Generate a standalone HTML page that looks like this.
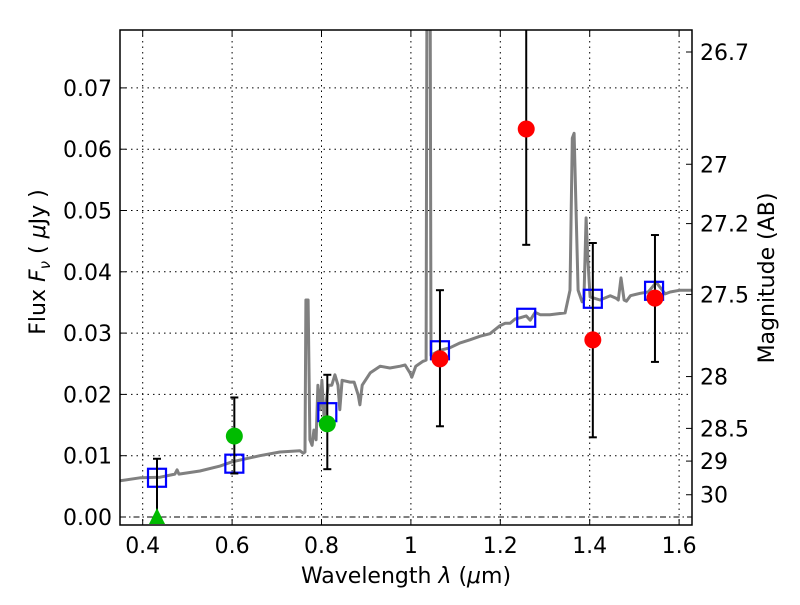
<!DOCTYPE html>
<html><head><meta charset="utf-8"><style>
body{margin:0;background:#fff}
svg text{font-family:"DejaVu Sans","Liberation Sans",sans-serif;fill:#000}
</style></head><body>
<svg id="chart" width="800" height="600" xmlns="http://www.w3.org/2000/svg">
<rect x="0" y="0" width="800" height="600" fill="#fff"/>
<g id="grid"></g>
<g id="spec"></g>
<g id="marks"></g>
<g id="axes"></g>
<text x="406" y="583" font-size="22" text-anchor="middle">Wavelength  <tspan font-style="italic">λ</tspan> (<tspan font-style="italic">μ</tspan>m)</text>
<text transform="translate(45,262) rotate(-90)" font-size="22" text-anchor="middle">Flux  <tspan font-style="italic">F</tspan><tspan font-style="italic" font-size="15" dy="5">ν</tspan><tspan dy="-5">  (  </tspan><tspan font-style="italic">μ</tspan>Jy )</text>
<text transform="translate(774,278) rotate(-90)" font-size="22" text-anchor="middle">Magnitude (AB)</text>
</svg>
<script>
const xTicks=[0.4,0.6,0.8,1,1.2,1.4,1.6];
const xTickLabels=["0.4","0.6","0.8","1","1.2","1.4","1.6"];
const yTicks=[0,0.01,0.02,0.03,0.04,0.05,0.06,0.07];
const yTickLabels=["0.00","0.01","0.02","0.03","0.04","0.05","0.06","0.07"];
const magTicks=[26.7,27,27.2,27.5,28,28.5,29,30];
const magTickLabels=["26.7","27","27.2","27.5","28","28.5","29","30"];
const specLam=[0.349,0.394,0.439,0.472,0.477,0.481,0.528,0.573,0.600,0.662,0.707,0.752,0.759,0.763,0.765,0.770,0.774,0.779,0.783,0.788,0.792,0.797,0.801,0.806,0.815,0.823,0.830,0.837,0.841,0.846,0.864,0.873,0.882,0.886,0.891,0.909,0.931,0.953,0.976,0.987,0.998,1.002,1.011,1.027,1.034,1.036,1.043,1.045,1.065,1.087,1.110,1.132,1.155,1.177,1.199,1.211,1.222,1.233,1.244,1.258,1.267,1.278,1.289,1.311,1.345,1.356,1.361,1.365,1.369,1.374,1.383,1.387,1.392,1.396,1.401,1.423,1.446,1.459,1.464,1.470,1.477,1.482,1.491,1.513,1.531,1.540,1.549,1.557,1.569,1.580,1.602,1.629];
const specFlux=[0.0059,0.0064,0.0065,0.0070,0.0077,0.0070,0.0075,0.0083,0.0090,0.0100,0.0106,0.0108,0.0104,0.0106,0.0354,0.0354,0.0126,0.0117,0.0142,0.0126,0.0215,0.0175,0.0223,0.0158,0.0215,0.0215,0.0232,0.0215,0.0175,0.0223,0.0220,0.0220,0.0199,0.0183,0.0215,0.0235,0.0246,0.0243,0.0246,0.0248,0.0235,0.0228,0.0246,0.0254,0.0256,0.09,0.09,0.0264,0.0272,0.0276,0.0284,0.0289,0.0295,0.0299,0.0312,0.0316,0.0316,0.0323,0.0325,0.0328,0.0321,0.0334,0.0330,0.0330,0.0333,0.0370,0.0618,0.0626,0.0517,0.0370,0.0351,0.0354,0.0488,0.0419,0.0359,0.0354,0.0361,0.0357,0.0354,0.0390,0.0354,0.0352,0.0361,0.0365,0.0367,0.0375,0.0383,0.0375,0.0364,0.0367,0.0370,0.0370];
const modelLam=[0.432,0.605,0.813,1.065,1.258,1.407,1.544];
const modelFlux=[0.0064,0.0087,0.0171,0.0272,0.0325,0.0356,0.0369];
const obsLam=[0.432,0.605,0.813,1.065,1.258,1.407,1.546];
const obsFlux=[0.0,0.0132,0.0152,0.0258,0.0633,0.0289,0.0357];
const obsLo=[0.0,0.0071,0.0078,0.0148,0.0444,0.0130,0.0253];
const obsHi=[0.0095,0.0195,0.0232,0.0370,0.0900,0.0447,0.0460];
const obsKind=["tri","green","green","red","red","red","red"];

const L=120,R=692,T=30,B=525;
const X=v=>142.7+(v-0.4)*447;
const Y=v=>517-v*6130;
const NS="http://www.w3.org/2000/svg";
function mk(parent,tag,attrs){const e=document.createElementNS(NS,tag);for(const k in attrs)e.setAttribute(k,attrs[k]);parent.appendChild(e);return e;}
const grid=document.getElementById('grid'),axes=document.getElementById('axes'),spec=document.getElementById('spec'),marks=document.getElementById('marks');
const clip=mk(document.getElementById('chart'),'clipPath',{id:'pc'});mk(clip,'rect',{x:L,y:T,width:R-L,height:B-T});
spec.setAttribute('clip-path','url(#pc)');marks.setAttribute('clip-path','url(#pc)');
xTicks.forEach((t,i)=>{
 const x=X(t);
 const g=mk(grid,'line',{x1:x,x2:x,y1:T,y2:B,stroke:'#000','stroke-width':1,'stroke-dasharray':'1.5,4'});
 
 
 mk(axes,'line',{x1:x,x2:x,y1:B,y2:B-6,stroke:'#000'});mk(axes,'line',{x1:x,x2:x,y1:T,y2:T+6,stroke:'#000'});
 const tx=mk(axes,'text',{x:x,y:B+28,'font-size':22,'text-anchor':'middle'});tx.textContent=xTickLabels[i];
 
 
});
yTicks.forEach((t,i)=>{
 const y=Y(t);
 const g=mk(grid,'line',{x1:L,x2:R,y1:y,y2:y,stroke:'#000','stroke-width':1,'stroke-dasharray':i===0?'6,3,1.5,3':'1.5,4'});
 
 
 mk(axes,'line',{x1:L,x2:L+6,y1:y,y2:y,stroke:'#000'});
 const tx=mk(axes,'text',{x:L-8,y:y+8,'font-size':22,'text-anchor':'end'});tx.textContent=yTickLabels[i];
 
 
});
magTicks.forEach((m,i)=>{
 const y=Y(Math.pow(10,(23.9-m)/2.5));
 mk(axes,'line',{x1:R,x2:R-6,y1:y,y2:y,stroke:'#000'});
 const tx=mk(axes,'text',{x:R+8,y:y+8,'font-size':22});tx.textContent=magTickLabels[i];
 
 
});
const fr=mk(axes,'rect',{x:L,y:T,width:R-L,height:B-T,fill:'none',stroke:'#000','stroke-width':1.5});


const p=mk(spec,'polyline',{points:specLam.map((l,i)=>X(l).toFixed(1)+','+Y(specFlux[i]).toFixed(1)).join(' '),fill:'none',stroke:'#808080','stroke-width':3,'stroke-linejoin':'round'});


modelLam.forEach((l,i)=>{
 const r=mk(marks,'rect',{x:X(l)-9,y:Y(modelFlux[i])-9,width:18,height:18,fill:'none',stroke:'#0000ff','stroke-width':2.2});
 
 
});
obsLam.forEach((l,i)=>{
 const x=X(l),yl=Y(obsLo[i]),yh=Y(obsHi[i]);
 const e=mk(marks,'g',{});
 
 
 mk(e,'line',{x1:x,x2:x,y1:yl,y2:yh,stroke:'#000','stroke-width':2});
 mk(e,'line',{x1:x-4,x2:x+4,y1:yl,y2:yl,stroke:'#000','stroke-width':2});
 mk(e,'line',{x1:x-4,x2:x+4,y1:yh,y2:yh,stroke:'#000','stroke-width':2});
 const y=Y(obsFlux[i]);let m;
 if(obsKind[i]==='tri'){m=mk(marks,'polygon',{points:`${x},${y-9} ${x-8},${y+7} ${x+8},${y+7}`,fill:'#00bb00'});}
 else m=mk(marks,'circle',{cx:x,cy:y,r:8.5,fill:obsKind[i]==='red'?'#ff0000':'#00bb00'});
 
 
});
</script>
</body></html>
